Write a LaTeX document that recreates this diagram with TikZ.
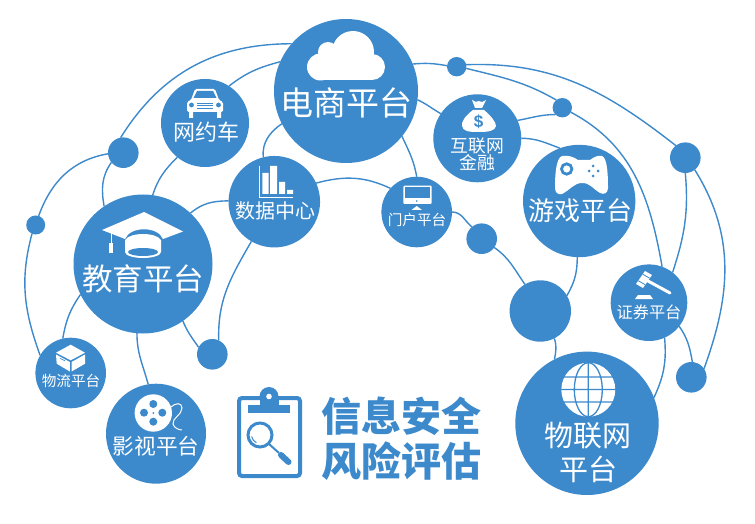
\documentclass[tikz,border=0pt]{standalone}
\usepackage{fontspec}
\setmainfont{Noto Sans CJK SC}
\newfontfamily\latinfont{Liberation Sans}
\usetikzlibrary{backgrounds}
\definecolor{netblue}{HTML}{3C89CB}

\begin{document}
\begin{tikzpicture}[x=1pt,y=1pt,
                    pixel/.style={shift={(0,523)},y=-1pt},
                    bubble/.style={shape=circle,fill=netblue,inner sep=0pt,
                    outer sep=0pt,minimum size=#1},
                    lab/.style 2 args={text=white,align=center,inner sep=0pt,
                    font=\fontsize{#1}{#2}\selectfont},
                    link/.style={draw=netblue,line width=1.4pt},
                    hole/.style={fill=netblue}]
  \useasboundingbox (0,0) rectangle (755,523);

  \begin{scope}[pixel]
    \node[bubble=144pt] (shop) at (346,91) {};
    \node[bubble=88pt] (car) at (205,123) {};
    \node[bubble=91.5pt] (data) at (274.3,201.7) {};
    \node[bubble=139pt] (edu) at (143,264) {};
    \node[bubble=70.6pt] (wuliu) at (70.7,373) {};
    \node[bubble=100pt] (film) at (156,433.7) {};
    \node[bubble=88pt] (fin) at (477.3,138.3) {};
    \node[bubble=112.4pt] (game) at (579.2,201) {};
    \node[bubble=70.6pt] (portal) at (416.7,212) {};
    \node[bubble=76.6pt] (stock) at (649,302.7) {};
    \node[bubble=143.4pt] (iot) at (587,423.3) {};

    \node[bubble=30.6pt] (dota) at (123.3,152.7) {};
    \node[bubble=19pt] (dotb) at (35.7,225) {};
    \node[bubble=30.6pt] (dotc) at (212.3,354.3) {};
    \node[bubble=19.4pt] (dotd) at (456.7,66.7) {};
    \node[bubble=19.4pt] (dote) at (562.3,107.7) {};
    \node[bubble=30.6pt] (dotf) at (685.3,157.7) {};
    \node[bubble=30.6pt] (dotg) at (481.7,238.7) {};
    \node[bubble=61.4pt] (doth) at (540.3,311) {};
    \node[bubble=30.6pt] (doti) at (691.3,377.3) {};

    % labels
    \node[lab={33}{36}] (shoptext) at (346,103) {电商平台};
    \node[lab={22}{26}] (cartext) at (206,132) {网约车};
    \node[lab={20}{24}] (datatext) at (275,211) {数据中心};
    \node[lab={30.5}{36}] (edutext) at (143,279) {教育平台};
    \node[lab={14.6}{18}] (wuliutext) at (71,381) {物流平台};
    \node[lab={21.7}{26}] (filmtext) at (156,446) {影视平台};
    \node[lab={17.8}{17.5}] (fintext) at (477.5,154.5) {互联网\\金融};
    \node[lab={26}{30}] (gametext) at (580,211) {游戏平台};
    \node[lab={14.6}{18}] (portaltext) at (417,220) {门户平台};
    \node[lab={16.2}{20}] (stocktext) at (649,312) {证券平台};
    \node[lab={29}{34}] (iottext) at (588,452) {物联网\\平台};
    \node[inner sep=0pt,align=center,text=netblue,
          font=\fontsize{40}{45}\selectfont\bfseries] (title) at (401,438.5) {信息安全\\风险评估};

    % cloud
    \fill[white] (320.5,67) circle (13.5);
    \fill[white] (328,52) circle (10);
    \fill[white] (353,52) circle (21);
    \fill[white] (372,67) circle (13);
    \fill[white] (320,60) rectangle (372,80);
    % car
    \fill[white,rounded corners=1.5pt] (195,89) -- (215,89) -- (219,100) -- (223,102)
      -- (223,112) -- (187,112) -- (187,102) -- (191,100) -- cycle;
    \fill[white] (189,111) rectangle (193,118) (217,111) rectangle (221,118);
    \fill[hole] (197,91) -- (213,91) -- (216.5,98) -- (193.5,98) -- cycle;
    \fill[hole] (191.5,105) circle (2.4) (218.5,105) circle (2.4);
    \foreach \gy in {103,105.5,108}
      \draw[netblue,line width=0.7pt] (197,\gy) -- (213,\gy);
    % bars
    \draw[white,line width=0.9pt] (259,166) -- (259,197.5) -- (293,197.5);
    \fill[white] (262.3,173) rectangle (268.7,194) (270,166) rectangle (277,194)
      (279,182) rectangle (285,194) (287,190) rectangle (293,194);
    % cap
    \fill[white] (144,212) -- (183,231.5) -- (163,239) .. controls (158,226) and (130,226) .. (125,239)
      -- (102,230) -- cycle;
    \fill[white] (125,252) -- (125,240) .. controls (130,232) and (156,232) .. (161,240) -- (161,252) -- cycle;
    \fill[white] (143,252) ellipse (18 and 6);
    \fill[hole] (143,252) ellipse (15 and 4);
    \draw[white,line width=0.8pt] (111,233) -- (111,245);
    \fill[white] (109.3,243) rectangle (112.7,253);
    % money bag
    \fill[white] (472,100) -- (476,102) -- (478.5,101) -- (482,102) -- (486,100) -- (482,108) -- (475,108) -- cycle;
    \fill[white] (473,110) .. controls (465,116) and (461,122) .. (462,126)
      .. controls (463,131) and (468,132) .. (478,132) .. controls (489,132) and (495,131) .. (496,126)
      .. controls (496,122) and (491,116) .. (484,110) -- cycle;
    \node[text=netblue,inner sep=0pt,font=\latinfont\fontsize{17}{17}\selectfont\bfseries] (dollar) at (478.5,122) {\$};
    % monitor
    \fill[white,rounded corners=1pt] (403.3,185.7) rectangle (431.7,204);
    \fill[hole] (405,187.3) rectangle (430,198.3);
    \fill[hole] (416.7,201) circle (0.9);
    \fill[white] (416.7,206) -- (422,210) -- (411.5,210) -- cycle;
    % gamepad
    \fill[white] (562,156) .. controls (568,155) and (574,157) .. (578,160) -- (590,160)
      .. controls (594,157) and (598,155) .. (602,156) .. controls (608,158) and (608,180) .. (608,188)
      .. controls (608,193) and (604,195) .. (600,193) .. controls (592,188) and (590,183) .. (582,183)
      .. controls (574,183) and (570,190) .. (562,194) .. controls (557,195) and (555,192) .. (555,187)
      .. controls (555,175) and (556,158) .. (562,156) -- cycle;
    \draw[netblue,line width=2.8pt] (566.7,169) circle (5.2);
    \foreach \px/\py in {593/166,589/171,598/171,593/176}
      \fill[hole] (\px,\py) circle (1.5);
    % gavel
    \fill[white] (645,271) -- (652,275) -- (643,288) -- (636,284) -- cycle;
    \draw[netblue,line width=0.8pt] (642.7,274.2) -- (649.7,278.2) (638.2,280.7) -- (645.2,284.7);
    \draw[white,line width=3pt,line cap=round] (648,281) -- (670,293);
    \fill[white] (638,295) -- (650,295) -- (653,299) -- (635,299) -- cycle;
    % globe
    \fill[white] (588.3,389.7) circle (27);
    \draw[netblue,line width=1.3pt] (561,377) -- (616,377) (561,389.5) -- (616,389.5) (561,402) -- (616,402)
      (588.3,362.7) -- (588.3,416.7) (588.3,389.7) ellipse (14 and 27);
    % box
    \fill[white] (70.7,344.7) -- (85,352.7) -- (70.7,360.3) -- (56,352.7) -- cycle;
    \fill[white] (56,354.5) -- (69.8,362) -- (69.8,371.5) -- (56.7,363.7) -- cycle;
    \fill[white] (71.6,362) -- (85,354.5) -- (85,363.7) -- (71.6,371.5) -- cycle;
    \draw[netblue,line width=0.7pt] (60,358.3) -- (65,360.8);
    % reel
    \fill[white] (153.3,413) circle (18.7);
    \foreach \px/\py in {153.3/404,144/412.7,162.3/412.7,153.3/421.7}
      \fill[hole] (\px,\py) circle (4);
    \fill[hole] (153.3,413) circle (1);
    \draw[white,line width=1pt] (171,407) .. controls (175,403) and (182,402) .. (182,408)
      .. controls (182,415) and (172,418) .. (173,424) .. controls (174,428) and (179,430) .. (182,430);
    % clipboard
    \draw[netblue,line width=4pt,rounded corners=3pt] (239,398) rectangle (300,476);
    \fill[hole] (269,396.5) circle (9.5);
    \fill[hole] (259.5,396.5) rectangle (278.5,405);
    \fill[hole] (248,405) rectangle (290,413);
    \fill[white] (269,396.5) circle (2.8);
    \draw[netblue,line width=3pt] (260,435) circle (12);
    \draw[netblue,line width=1pt] (260,435) +(115:8.5) arc (115:170:8.5);
    \draw[netblue,line width=2pt] (269,444) -- (279,453);
    \draw[netblue,line width=6pt,line cap=round] (281,455) -- (288.5,462);
  \end{scope}

  \begin{scope}[on background layer]
    \draw[link] (dota.100) to[out=58,in=180] (shop.139);
    \draw[link] (car.57) to[out=38,in=195] (shop.156);
    \draw[link] (edu.82) to[out=72,in=225] (car.231);
    \draw[link] (dota.219) to[out=235,in=100] (edu.124);
    \draw[link] (dotb.72) to[out=70,in=190] (dota.184);
    \draw[link] (dotb.247) to[out=255,in=110] (wuliu.150);
    \draw[link] (edu.47) to[out=40,in=180] (data.179);
    \draw[link] (data.240) to[out=240,in=92] (dotc.65);
    \draw[link] (shop.207) to[out=215,in=95] (data.104);
    \draw[link] (data.24) to[out=15,in=155] (portal.138);
    \draw[link] (shop.321) to[out=-65,in=100] (portal.90);
    \draw[link] (shop.353) to[out=-25,in=150] (fin.146);
    \draw[link] (shop.22) to[out=5,in=170] (dotd.174);
    \draw[link] (dotd.12) to[out=2,in=142] (dotf.128);
    \draw[link] (dotd.-10) to[out=-14,in=150] (dote.128);
    \draw[link] (fin.24) to[out=10,in=180] (dote.225);
    \draw[link] (fin.0) to[out=0,in=160] (game.110);
    \draw[link] (dote.332) to[out=-28,in=100] (stock.70);
    \draw[link] (dotf.270) to[out=-85,in=72] (stock.52);
    \draw[link] (dotf.308) to[out=-58,in=70] (doti.34);
    \draw[link] (portal.0) to[out=0,in=140] (dotg.130);
    \draw[link] (dotg.325) to[out=-35,in=125] (doth.120);
    \draw[link] (game.268) to[out=-90,in=60] (doth.30);
    \draw[link] (doth.297) to[out=-70,in=80] (iot.117);
    \draw[link] (stock.294) to[out=-85,in=65] (iot.21);
    \draw[link] (stock.322) to[out=-55,in=100] (doti.86);
    \draw[link] (edu.206) to[out=235,in=80] (wuliu.103);
    \draw[link] (edu.265) to[out=-90,in=105] (film.99);
    \draw[link] (edu.305) to[out=-68,in=125] (dotc.153);
  \end{scope}
\end{tikzpicture}
\end{document}
